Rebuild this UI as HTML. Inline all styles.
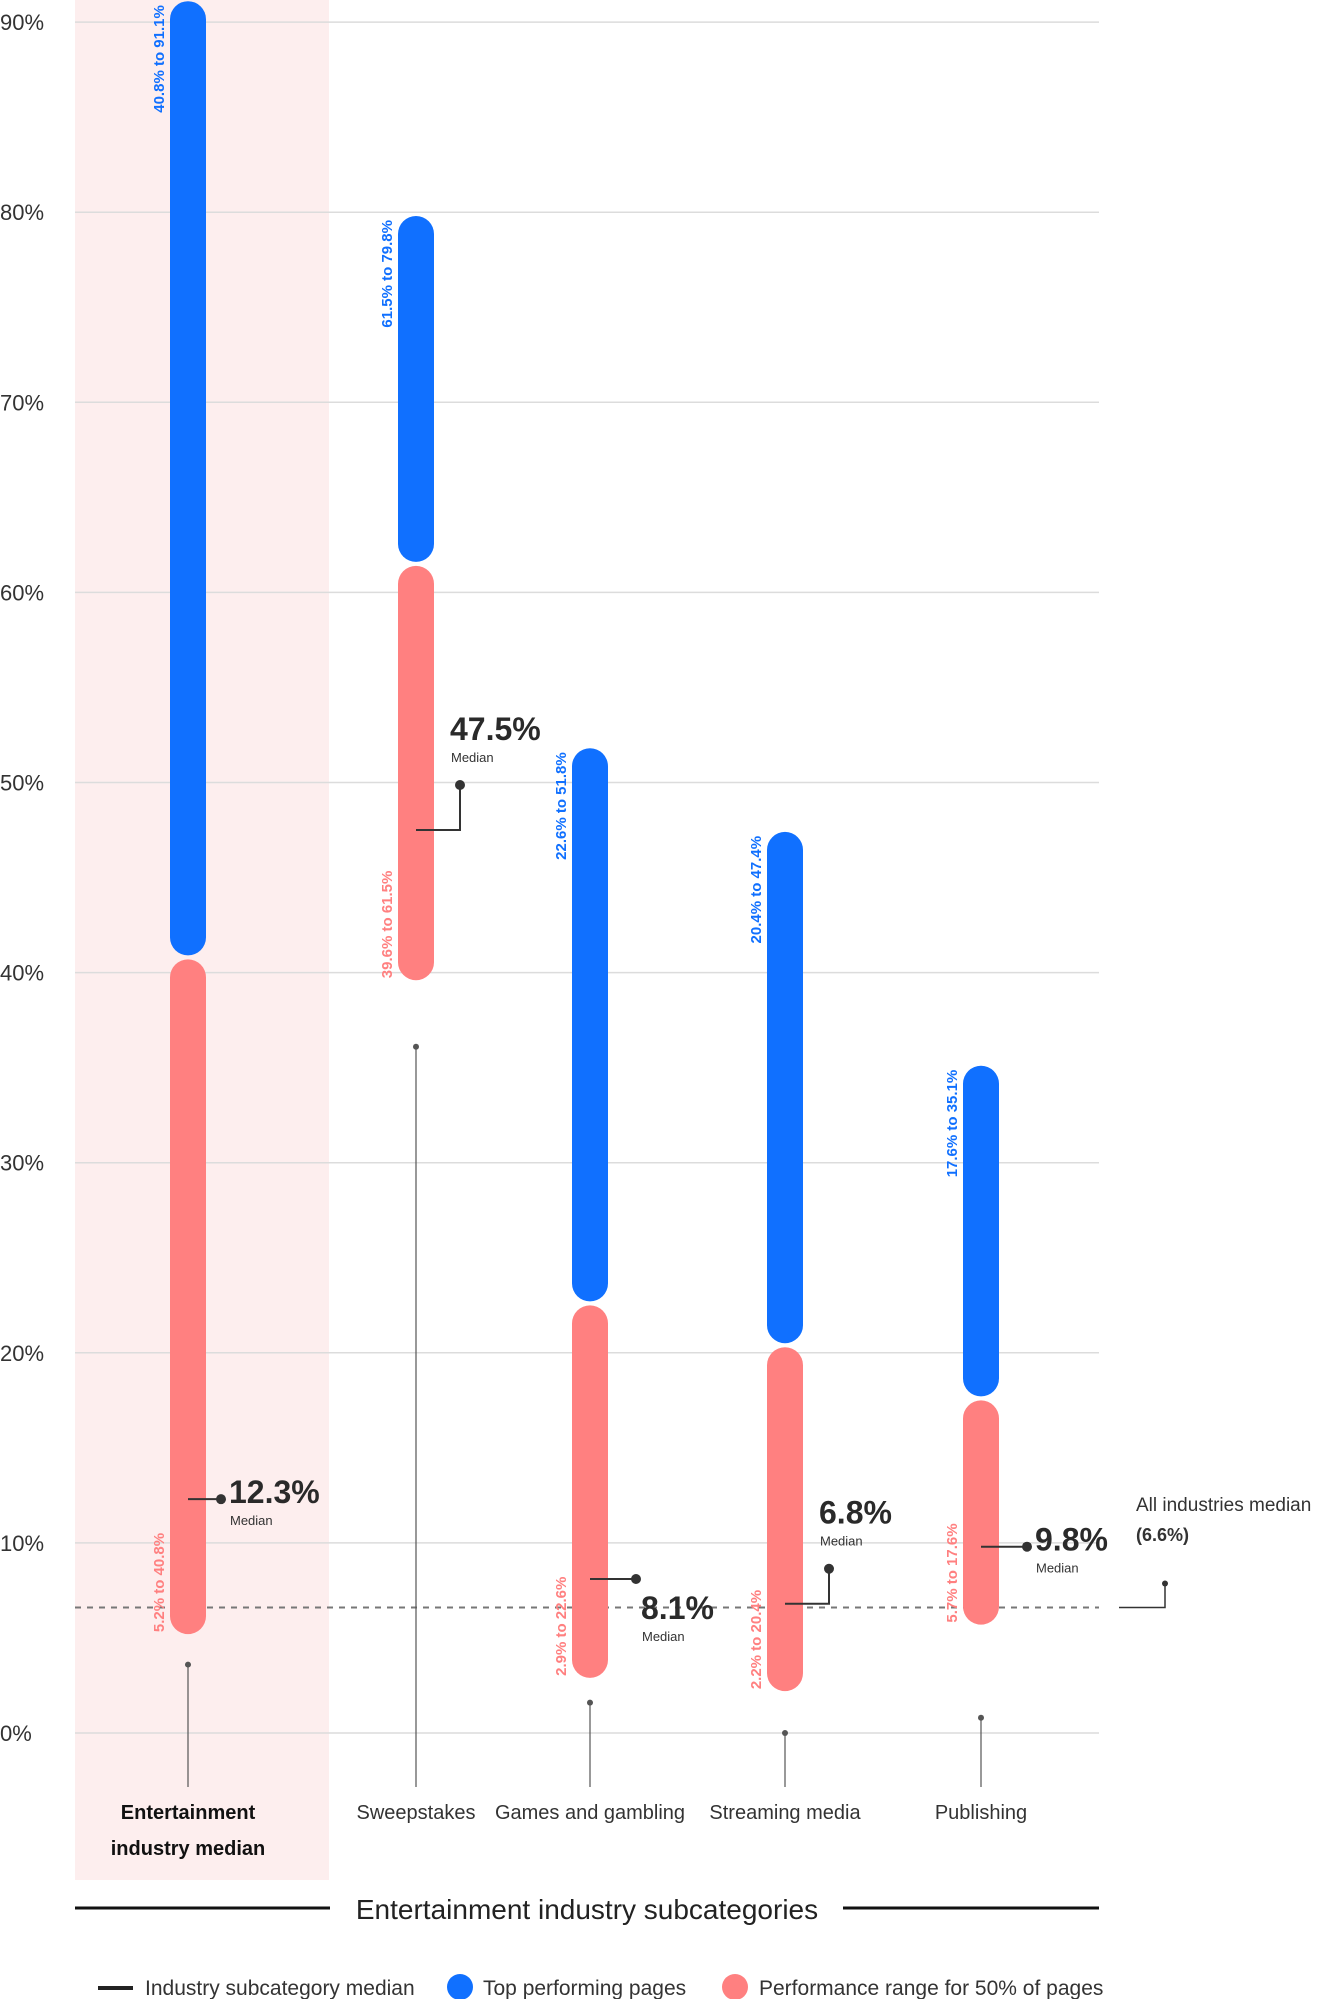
<!DOCTYPE html>
<html><head><meta charset="utf-8">
<style>
html,body{margin:0;padding:0;background:#fff;}
svg{display:block;font-family:"Liberation Sans Narrow","Liberation Sans",sans-serif;}
</style></head>
<body>
<svg id="chart" width="1317" height="1999" viewBox="0 0 1317 1999" xmlns="http://www.w3.org/2000/svg">
<rect x="75" y="0" width="254" height="1880" fill="#fdeeee"/>
<g id="grid"></g>
<g id="marks"></g>
<g>
<text x="1136" y="1511" font-size="19" fill="#333">All industries median</text>
<text x="1136" y="1541" font-size="18" font-weight="bold" fill="#333">(6.6%)</text>
</g>
<line x1="75" y1="1908" x2="330" y2="1908" stroke="#111" stroke-width="3"/>
<line x1="843" y1="1908" x2="1099" y2="1908" stroke="#111" stroke-width="3"/>
<text x="587" y="1919" font-size="28" fill="#222" text-anchor="middle">Entertainment industry subcategories</text>
<g>
<line x1="98" y1="1988" x2="133" y2="1988" stroke="#222" stroke-width="4"/>
<text x="145" y="1995" font-size="21" fill="#333">Industry subcategory median</text>
<circle cx="460" cy="1987" r="13" fill="#1070ff"/>
<text x="483" y="1995" font-size="21" fill="#333">Top performing pages</text>
<circle cx="735" cy="1987" r="13" fill="#ff8080"/>
<text x="759" y="1995" font-size="21" fill="#333">Performance range for 50% of pages</text>
</g>
</svg>
<script>
const categories = ["Entertainment industry median","Sweepstakes","Games and gambling","Streaming media","Publishing"];
const rangeLow = [5.2, 39.6, 2.9, 2.2, 5.7];
const rangeHigh = [40.8, 61.5, 22.6, 20.4, 17.6];
const topLow = [40.8, 61.5, 22.6, 20.4, 17.6];
const topHigh = [91.1, 79.8, 51.8, 47.4, 35.1];
const medians = [12.3, 47.5, 8.1, 6.8, 9.8];
const stemTop = [3.6, 36.1, 1.6, 0.0, 0.8];
const allIndustriesMedian = 6.6;
const yTicks = [0,10,20,30,40,50,60,70,80,90];
const yTickLabels = ["0%","10%","20%","30%","40%","50%","60%","70%","80%","90%"];

const NS = "http://www.w3.org/2000/svg";
const X0 = 75, X1 = 1099;
function y(v){ return 1733 - v * 19.01; }
const xCenters = [188, 416, 590, 785, 981];
function x(i){ return xCenters[i]; }
function mk(tag, attrs, parent, text){
  const e = document.createElementNS(NS, tag);
  for (const k in attrs) e.setAttribute(k, attrs[k]);
  if (text !== undefined) e.textContent = text;
  parent.appendChild(e);
  return e;
}
const grid = document.getElementById('grid');
const marks = document.getElementById('marks');
const svg = document.getElementById('chart');

yTicks.forEach((t, i) => {
  const l = mk('line', {x1:X0, x2:X1, y1:y(t), y2:y(t), stroke:'#dcdcdc', 'stroke-width':1.5}, grid);
  
  
  const tx = mk('text', {x:0, y:y(t)+8, 'font-size':22, fill:'#333'}, grid, yTickLabels[i]);
  
  
});

// all industries dashed line
const dl = mk('line', {x1:X0, x2:X1, y1:y(allIndustriesMedian), y2:y(allIndustriesMedian), stroke:'#777', 'stroke-width':2, 'stroke-dasharray':'6 6'}, marks);


const ac = mk('path', {d:`M1119 ${y(allIndustriesMedian)} H1165 V${y(allIndustriesMedian)-24}`, stroke:'#333', 'stroke-width':1.5, fill:'none'}, marks);


const ad = mk('circle', {cx:1165, cy:y(allIndustriesMedian)-24, r:3, fill:'#333'}, marks);



const W = 36, GAP = 2;
// label layout per category: [mode, dx, dy]
const medLayout = [
  {mode:'right', dx:33},
  {mode:'up', dx:44, up:45},
  {mode:'below', dx:46},
  {mode:'up', dx:44, up:35},
  {mode:'right', dx:46}
];
categories.forEach((c, i) => {
  const cx = x(i);
  const slug = c.toLowerCase().replace(/[^a-z]+/g,'-');
  // stem
  const st = mk('line', {x1:cx, x2:cx, y1:y(stemTop[i]), y2:1787, stroke:'#555', 'stroke-width':1.2}, marks);
  
  
  const sd = mk('circle', {cx:cx, cy:y(stemTop[i]), r:3, fill:'#555'}, marks);
  
  
  // range bar
  const rTop = y(rangeHigh[i]) + GAP, rBot = y(rangeLow[i]);
  const rb = mk('rect', {x:cx-W/2, y:rTop, width:W, height:rBot-rTop, rx:W/2, fill:'#ff8080'}, marks);
  
  
  // top bar
  const tTop = y(topHigh[i]), tBot = y(topLow[i]) - GAP;
  const tb = mk('rect', {x:cx-W/2, y:tTop, width:W, height:tBot-tTop, rx:W/2, fill:'#1070ff'}, marks);
  
  
  // rotated labels
  const tl = mk('text', {transform:`translate(${cx-W/2-6},${tTop+4}) rotate(-90)`, 'text-anchor':'end', 'font-size':15, 'font-weight':'bold', fill:'#1070ff'}, marks, topLow[i].toFixed(1)+'% to '+topHigh[i].toFixed(1)+'%');
  
  
  const rl = mk('text', {transform:`translate(${cx-W/2-6},${rBot-2}) rotate(-90)`, 'text-anchor':'start', 'font-size':15, 'font-weight':'bold', fill:'#ff8080'}, marks, rangeLow[i].toFixed(1)+'% to '+rangeHigh[i].toFixed(1)+'%');
  
  
  // median connector
  const my = y(medians[i]);
  const L = medLayout[i];
  let dx = cx + L.dx, dy = my, d;
  if (L.mode === 'up'){ dy = my - L.up; d = `M${cx} ${my} H${dx} V${dy}`; }
  else d = `M${cx} ${my} H${dx}`;
  const mc = mk('path', {d:d, stroke:'#333', 'stroke-width':2, fill:'none'}, marks);
  
  
  const md = mk('circle', {cx:dx, cy:dy, r:5, fill:'#333'}, marks);
  
  
  let lx, ly;
  if (L.mode === 'right'){ lx = dx + 8; ly = dy + 4; }
  else if (L.mode === 'up'){ lx = dx - 10; ly = dy - 45; }
  else { lx = dx + 5; ly = dy + 40; }
  const mv = mk('text', {x:lx, y:ly, 'font-size':32, 'font-weight':'bold', fill:'#2a2a2a'}, marks, medians[i].toFixed(1)+'%');
  
  
  const mt = mk('text', {x:lx+1, y:ly+22, 'font-size':13, fill:'#333'}, marks, 'Median');
  
  
  // category labels
  if (i === 0){
    const a = mk('text', {x:cx, y:1819, 'text-anchor':'middle', 'font-size':20, 'font-weight':'bold', fill:'#111'}, marks, 'Entertainment');
    
    
    const b = mk('text', {x:cx, y:1855, 'text-anchor':'middle', 'font-size':20, 'font-weight':'bold', fill:'#111'}, marks, 'industry median');
    
    
  } else {
    const a = mk('text', {x:cx, y:1819, 'text-anchor':'middle', 'font-size':20, fill:'#333'}, marks, c);
    
    
  }
});
</script>
</body></html>
